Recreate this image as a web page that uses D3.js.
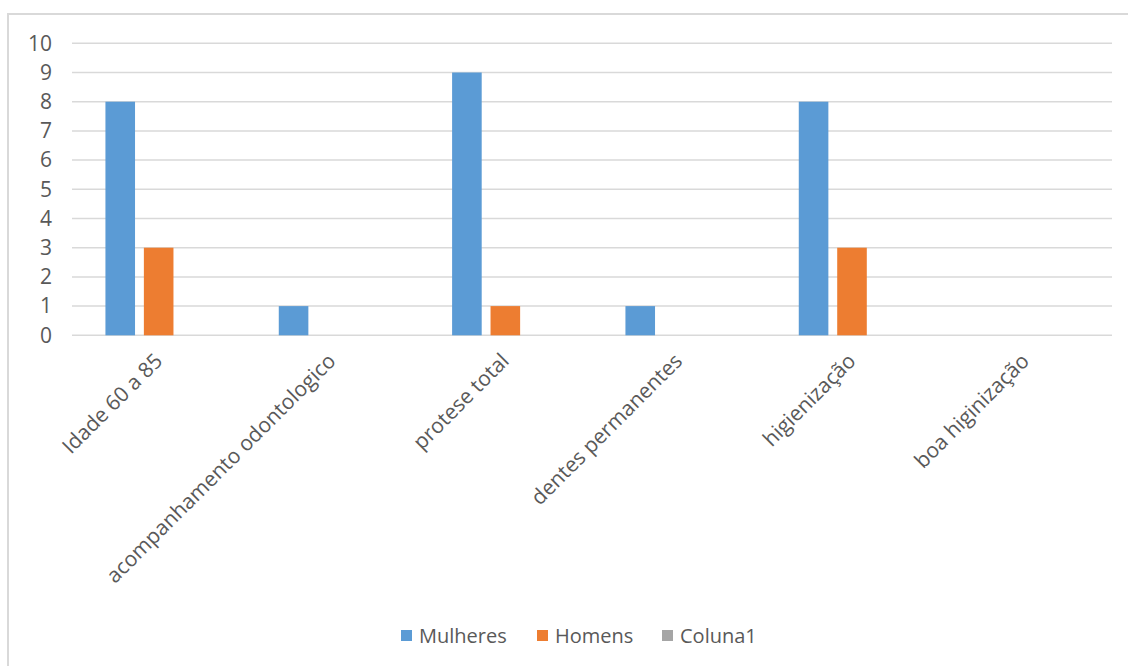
<!DOCTYPE html>
<html>
<head>
<meta charset="utf-8">
<script src="https://cdn.jsdelivr.net/npm/d3@7"></script>
<style>
  body { margin: 0; background: #fff; }
  .chart text { font-family: 'Open Sans', sans-serif; fill: #595959; }
  .axis path, .axis line { stroke: none; }
  .grid line { stroke: #d9d9d9; stroke-width: 1.5; }
</style>
</head>
<body>
<div class="chart"></div>
<script>
// categories and series values
const categories = ['Idade 60 a 85', 'acompanhamento odontologico', 'protese total',
  'dentes permanentes', 'higienização', 'boa higinização']
const seriesNames = ['Mulheres', 'Homens', 'Coluna1']
const mulheres = [8, 1, 9, 1, 8, 0]
const homens = [3, 0, 1, 0, 3, 0]
const coluna1 = [0, 0, 0, 0, 0, 0]
const yTicks = [0, 1, 2, 3, 4, 5, 6, 7, 8, 9, 10]
const colors = ['#5b9bd5', '#ed7d31', '#a5a5a5']

const width = 1128
const height = 666
const margins = { top: 43.3, right: 16, bottom: 330, left: 72 }
const innerWidth = width - margins.left - margins.right
const innerHeight = 335.3 - margins.top

const svg = d3.select('.chart')
  .append('svg')
  .attr('width', width)
  .attr('height', height)

// chart area border
svg.append('rect')
  .attr('x', 8)
  .attr('y', 14)
  .attr('width', width)
  .attr('height', height)
  .attr('fill', 'none')
  .attr('stroke', '#d9d9d9')
  .attr('stroke-width', 2)

const g = svg.append('g')
  .attr('transform', `translate(${margins.left}, ${margins.top})`)

const x0 = d3.scaleBand()
  .domain(categories)
  .range([0, innerWidth])

const x1 = d3.scaleBand()
  .domain(seriesNames)
  .range([0, x0.bandwidth()])
  .paddingInner(0.23)
  .paddingOuter(0.87)

const y = d3.scaleLinear()
  .domain([0, 10])
  .range([innerHeight, 0])

// gridlines
g.append('g')
  .attr('class', 'grid')
  .selectAll('line')
  .data(yTicks)
  .join('line')
  .attr('x1', 0)
  .attr('x2', innerWidth)
  .attr('y1', d => y(d))
  .attr('y2', d => y(d))

// y axis labels
g.append('g')
  .attr('class', 'axis axis__y')
  .call(d3.axisLeft(y).tickValues(yTicks).tickSize(0).tickPadding(20))
  .call(s => s.selectAll('text').style('font-size', '21px'))

// bars
const table = categories.map((c, i) => ({
  category: c,
  values: [mulheres[i], homens[i], coluna1[i]]
}))

g.append('g')
  .selectAll('g')
  .data(table)
  .join('g')
  .attr('transform', d => `translate(${x0(d.category)}, 0)`)
  .selectAll('rect')
  .data(d => d.values.map((v, i) => ({ name: seriesNames[i], value: v, color: colors[i] })))
  .join('rect')
  .attr('x', d => x1(d.name))
  .attr('width', x1.bandwidth())
  .attr('y', d => y(d.value))
  .attr('height', d => y(0) - y(d.value))
  .attr('fill', d => d.color)

// x axis labels, rotated
g.append('g')
  .attr('class', 'axis axis__x')
  .attr('transform', `translate(0, ${innerHeight})`)
  .call(d3.axisBottom(x0).tickSize(0).tickPadding(0))
  .call(s => s.select('.domain').remove())
  .selectAll('text')
  .style('font-size', '21px')
  .attr('text-anchor', 'end')
  .attr('dy', 0)
  .attr('transform', 'translate(5, 27) rotate(-45)')

// legend
const legendX = [401, 537, 662]
const legend = svg.append('g')
  .selectAll('g')
  .data(seriesNames)
  .join('g')
  .attr('transform', (d, i) => `translate(${legendX[i]}, 636)`)

legend.append('rect')
  .attr('x', 0)
  .attr('y', -6)
  .attr('width', 11)
  .attr('height', 11)
  .attr('fill', (d, i) => colors[i])

legend.append('text')
  .attr('x', 18)
  .attr('y', 0)
  .attr('dy', '0.35em')
  .style('font-size', '20px')
  .text(d => d)
</script>
</body>
</html>
